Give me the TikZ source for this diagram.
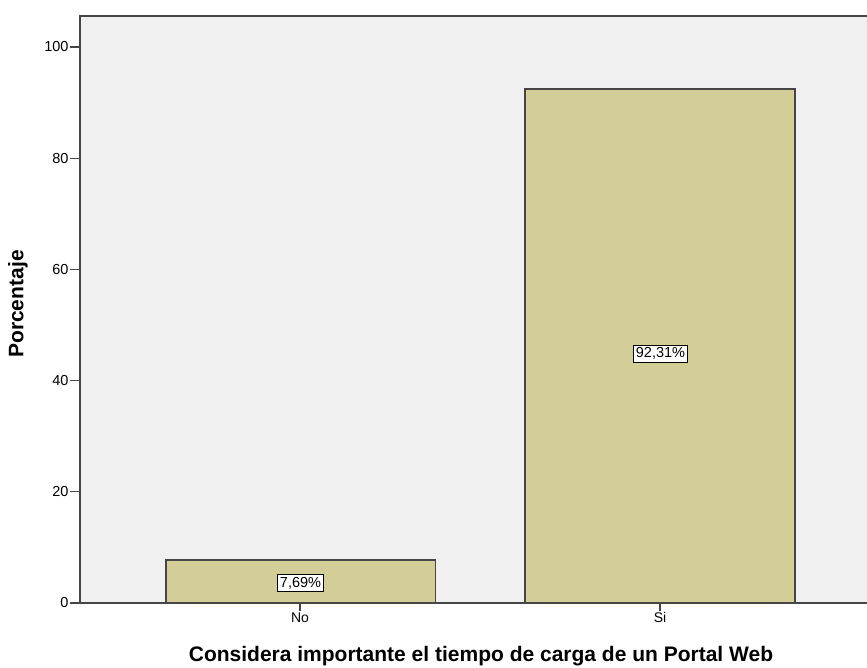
\documentclass[tikz,border=0pt]{standalone}
\usepackage{fontspec}
\setmainfont{Liberation Sans}
\definecolor{barfill}{RGB}{211,206,151}
\definecolor{plotbg}{RGB}{240,240,240}
\definecolor{axisgray}{RGB}{70,70,70}
\begin{document}
\begin{tikzpicture}[x=1pt,y=-1pt,
  bar/.style={draw=axisgray,line width=1.4pt,fill=barfill},
  valbox/.style={draw=black,fill=white,line width=0.9pt,inner xsep=2pt,inner ysep=2.5pt,text=black,font=\fontsize{14.5}{16}\selectfont},
  ticklab/.style={text=black,font=\fontsize{14.5}{16}\selectfont},
  catlab/.style={text=black,font=\fontsize{14}{16}\selectfont},
  axtitle/.style={text=black,font=\bfseries\fontsize{21}{24}\selectfont}]
\useasboundingbox (0,0) rectangle (867,668);
\fill[white] (0,0) rectangle (867,668);
\fill[plotbg] (80,16) rectangle (867,603);
\draw[axisgray,line width=1.3pt] (867,16) -- (80,16) -- (80,603) -- (867,603);
% ticks
\foreach \v in {0,20,40,60,80,100}{
  \coordinate (t\v) at (80,{603-5.56*\v});
  \draw[axisgray,line width=1.1pt] (t\v) -- ++(-10,0) node[ticklab,anchor=east,inner sep=1pt] {\v};
}
% bars
\draw[bar] (166,603) rectangle (435.5,560);
\draw[bar] (525,603) rectangle (795,89);
\node[valbox] (vNo) at (300.5,583) {7,69\%};
\node[valbox] (vSi) at (660.5,353.5) {92,31\%};
% x ticks
\coordinate (xNo) at (300,603);
\coordinate (xSi) at (660,603);
\draw[axisgray,line width=1.1pt] (xNo) -- ++(0,8) node[catlab,anchor=north,inner sep=1pt] {No};
\draw[axisgray,line width=1.1pt] (xSi) -- ++(0,8) node[catlab,anchor=north,inner sep=1pt] {Si};
\node[axtitle] (xt) at (481,656) {Considera importante el tiempo de carga de un Portal Web};
\node[axtitle,rotate=90] (yt) at (18,304) {Porcentaje};
\end{tikzpicture}
\end{document}
